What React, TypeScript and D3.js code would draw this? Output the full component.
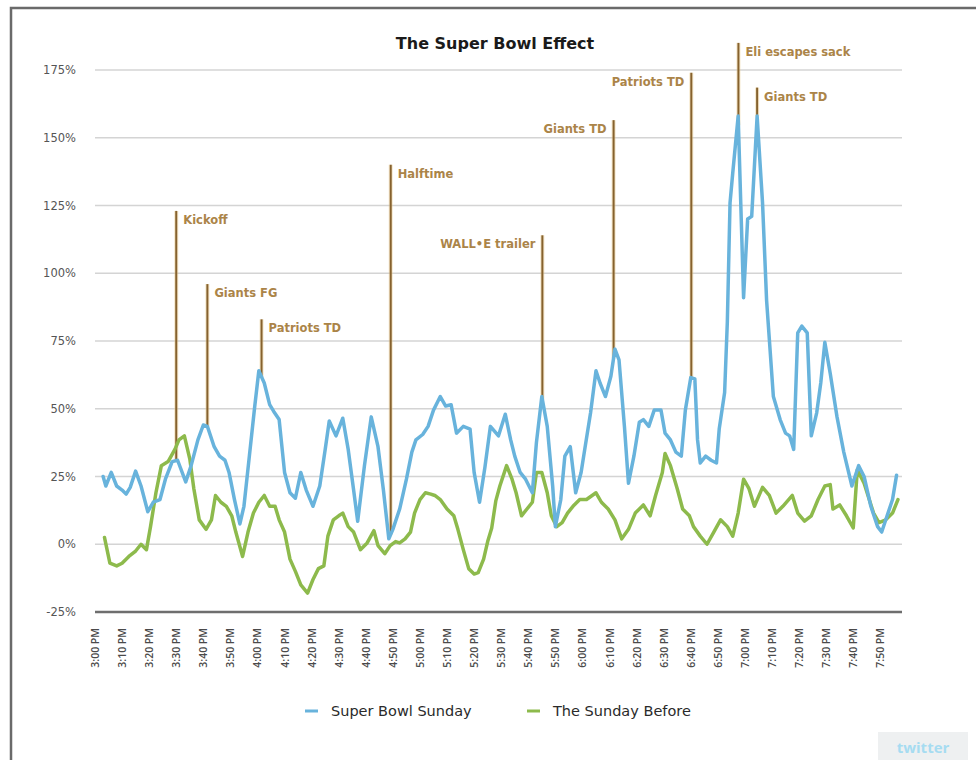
import { useEffect, useRef } from 'react'
import * as d3 from 'd3'

// minutes after 3:00 PM, share of tweets above normal (%)
const sbMinutes = [
  3, 4, 6, 8, 10, 11.5, 13, 15, 17, 19.5, 21.5, 24, 26, 28.5, 30.5, 33.5, 35.5, 38, 40, 41.5,
  44, 46, 48, 49.5, 51.5, 53.5, 55, 57, 59, 60.5, 62.5, 64.5, 66, 68, 70, 72, 74, 76, 78, 80.5,
  83, 85, 86.5, 89, 91.5, 93.5, 95.5, 97, 99.5, 102, 104.5, 106.5, 108.5, 110, 112.5, 115, 117, 118.5, 121, 123,
  125, 127.5, 129.5, 131.5, 133.5, 136, 138.5, 140, 142, 144, 146, 149, 151.5, 153.5, 155, 157, 159, 161.5, 163, 165,
  167, 169, 170, 172, 173.5, 175.5, 177.5, 179.5, 181, 183, 185, 186.5, 188.5, 190.5, 192, 193.5, 195.5, 197, 199, 201,
  202.5, 204.5, 206.5, 209, 210.5, 212.5, 214.5, 216.5, 218, 220, 221.5, 222.5, 223.5, 225.5, 227.5, 229.5, 230.5, 232.5, 233.5, 234.5,
  235.5, 237.5, 239.5, 241, 242.5, 244.5, 246.5, 248, 250.5, 253, 255, 256.5, 258, 259.5, 261, 263, 264.5, 266.5, 268, 269.5,
  271.5, 274, 276.5, 279.5, 282, 284, 286.5, 289, 290.5, 292.5, 294.5, 296,
]
const sbValues = [
  25, 21.5, 26.5, 21.5, 20, 18.5, 21, 27, 21.5, 12, 15.5, 16.5, 24, 30.5, 31, 23, 29, 38.5, 44, 43.5,
  36, 32.5, 31, 26.5, 16.5, 7.5, 14, 32.5, 51, 64, 59.5, 51.5, 49, 46, 26.5, 19, 17, 26.5, 20, 14,
  21.5, 35, 45.5, 40, 46.5, 35, 20, 8.5, 29, 47, 36, 20, 2, 5.5, 13, 24, 34, 38.5, 40.5, 43.5,
  49.5, 54.5, 51, 51.5, 41, 43.5, 42.5, 26.5, 15.5, 28.5, 43.5, 40, 48, 38.5, 32.5, 26.5, 24, 19, 37.5, 54.5,
  43.5, 21.5, 6.5, 16.5, 32.5, 36, 19, 26.5, 36, 48.5, 64, 59.5, 54.5, 62, 72, 68, 43.5, 22.5, 32.5, 45,
  46, 43.5, 49.5, 49.5, 41, 38.5, 34, 32.5, 49.5, 61.5, 61, 38.5, 30, 32.5, 31, 30, 42.5, 56, 82, 126,
  137, 158, 91, 120, 121, 158, 126, 90, 54.5, 46, 41, 40, 35, 78, 80.5, 78, 40, 48.5, 59.5, 74.5,
  63, 47, 34, 21.5, 29, 25, 14, 6.5, 4.5, 10.5, 16.5, 25.5,
]

const beforeMinutes = [
  3.5, 5.5, 8, 10, 12.5, 15, 17, 19, 20.5, 22.5, 24.5, 27, 29.5, 31, 33, 35, 36.5, 38.5, 41, 43,
  44.5, 46.5, 48.5, 50.5, 52, 54.5, 56.5, 58.5, 60.5, 62.5, 64.5, 66.5, 68, 70, 72, 74, 76, 78.5, 80.5, 82.5,
  84.5, 86, 88, 90, 91.5, 93.5, 95.5, 98, 100.5, 103, 104.5, 107, 109, 111, 112.5, 114.5, 116.5, 118, 120, 122,
  124, 125.5, 127.5, 130, 132.5, 134, 136, 138, 140, 141.5, 143.5, 145, 146.5, 148, 149.5, 152, 154, 155.5, 157.5, 159.5,
  161.5, 163, 165, 167, 168.5, 170.5, 172.5, 174.5, 176.5, 179, 181.5, 185, 187, 189.5, 192, 194.5, 197, 199.5, 202.5, 205,
  207, 209.5, 210.5, 212.5, 215, 217, 219.5, 221, 223.5, 226, 228.5, 231, 233.5, 235.5, 237.5, 239.5, 241.5, 243.5, 246.5, 249,
  251.5, 254, 257.5, 259.5, 262, 264.5, 267, 269.5, 271.5, 272.5, 275, 277.5, 280, 281.5, 284, 287.5, 289.5, 292, 294.5, 296.5,
]
const beforeValues = [
  2.5, -7, -8, -7, -4.5, -2.5, 0, -2, 6.5, 19, 29, 30.5, 35, 38.5, 40, 31.5, 20.5, 9, 5.5, 9,
  18, 15.5, 14, 10.5, 4.5, -4.5, 4.5, 11.5, 15.5, 18, 14, 14, 9, 4.5, -5.5, -10, -15, -18, -13, -9,
  -8, 3, 9, 10.5, 11.5, 6.5, 4.5, -2, 0.5, 5, -0.5, -3.5, -0.5, 1, 0.5, 2, 4.5, 11.5, 16.5, 19,
  18.5, 18, 16.5, 13, 10.5, 5.5, -2, -9, -11, -10.5, -5.5, 1, 6, 16, 21.5, 29, 24, 19, 10.5, 13,
  15.5, 26.5, 26.5, 19, 10.5, 6.5, 8, 11.5, 14, 16.5, 16.5, 19, 15.5, 13, 9, 2, 5.5, 11.5, 14.5, 10.5,
  18, 26.5, 33.5, 29, 20.5, 13, 10.5, 6.5, 3, 0, 4.5, 9, 6.5, 3, 11.5, 24, 20.5, 14, 21, 18,
  11.5, 14, 18, 11.5, 8.5, 10.5, 16.5, 21.5, 22, 13, 14.5, 10.5, 6, 27.5, 22.5, 11.5, 8, 9, 11.5, 16.5,
]

const yTicks = [-25, 0, 25, 50, 75, 100, 125, 150, 175]
const xTickMinutes = d3.range(0, 291, 10)
const xTickLabels = xTickMinutes.map(m => `${3 + Math.floor(m / 60)}:${String(m % 60).padStart(2, '0')} PM`)

const eventLabels = ['Kickoff', 'Giants FG', 'Patriots TD', 'Halftime', 'WALL\u2022E trailer', 'Giants TD', 'Patriots TD', 'Eli escapes sack', 'Giants TD']
const eventMinutes = [30, 41.5, 61.5, 109.2, 165.2, 191.5, 220.2, 237.6, 244.5]
const eventTops = [123, 96, 83, 140, 114, 156.5, 174, 185, 168.5]
const eventSides = ['right', 'right', 'right', 'right', 'left', 'left', 'left', 'right', 'right']

const seriesNames = ['Super Bowl Sunday', 'The Sunday Before']
const seriesColors = ['#68b3dc', '#8dba4c']

const SANS = '"DejaVu Sans", Verdana, sans-serif'
const OPEN = '"Open Sans", "DejaVu Sans", sans-serif'

export default function App() {
  const ref = useRef<SVGSVGElement>(null)

  useEffect(() => {
    if (!ref.current) return
    const svg = d3.select(ref.current)
    svg.selectAll('*').remove()

    const width = 976
    const height = 760

    svg.attr('width', width).attr('height', height)
      .style('position', 'absolute').style('left', '0px').style('top', '0px')
      .style('background', '#fff')

    // Frame
    svg.append('rect')
      .attr('x', 11).attr('y', 8).attr('width', 1000).attr('height', 800)
      .attr('fill', '#fff').attr('stroke', '#6a6a6a').attr('stroke-width', 2.5)

    const x = d3.scaleLinear().domain([0, 298]).range([95, 902])
    const y = d3.scaleLinear().domain([-25, 175]).range([612, 70])

    // Gridlines and y labels
    yTicks.forEach(t => {
      svg.append('line')
        .attr('x1', x(0)).attr('x2', x(298))
        .attr('y1', y(t)).attr('y2', y(t))
        .attr('stroke', t === -25 ? '#6e6e6e' : '#d4d4d4')
        .attr('stroke-width', t === -25 ? 2.5 : 1.5)

      svg.append('text')
        .attr('x', 76).attr('y', y(t)).attr('dy', '0.35em')
        .attr('text-anchor', 'end')
        .attr('font-family', SANS).attr('font-size', '11.5px')
        .attr('fill', '#555')
        .text(`${t}%`)
    })

    // X labels
    xTickMinutes.forEach((m, i) => {
      svg.append('text')
        .attr('transform', `translate(${x(m) + 4},628) rotate(-90)`)
        .attr('text-anchor', 'end')
        .attr('font-family', OPEN).attr('font-size', '10.5px').attr('font-weight', 600)
        .attr('fill', '#4a4a4a')
        .text(xTickLabels[i])
    })

    // Title
    svg.append('text')
      .attr('x', 495).attr('y', 49)
      .attr('text-anchor', 'middle')
      .attr('font-family', SANS).attr('font-size', '16px').attr('font-weight', 700)
      .attr('fill', '#1a1a1a')
      .text('The Super Bowl Effect')

    const sbData = sbMinutes.map((m, i) => [m, sbValues[i]] as [number, number])
    const beforeData = beforeMinutes.map((m, i) => [m, beforeValues[i]] as [number, number])
    const line = d3.line<[number, number]>().x(d => x(d[0])).y(d => y(d[1]))

    // value of the Super Bowl series at a minute, where each stem ends
    const interp = (m: number) => {
      const i = d3.bisector((d: [number, number]) => d[0]).left(sbData, m)
      if (i <= 0) return sbData[0][1]
      if (i >= sbData.length) return sbData[sbData.length - 1][1]
      const a = sbData[i - 1], b = sbData[i]
      return a[1] + (b[1] - a[1]) * (m - a[0]) / (b[0] - a[0])
    }

    // Annotation stems
    eventMinutes.forEach((m, i) => {
      svg.append('line')
        .attr('x1', x(m)).attr('x2', x(m))
        .attr('y1', y(eventTops[i])).attr('y2', y(interp(m)))
        .attr('stroke', '#e9c988').attr('stroke-width', 4).attr('opacity', 0.45)
      svg.append('line')
        .attr('x1', x(m)).attr('x2', x(m))
        .attr('y1', y(eventTops[i])).attr('y2', y(interp(m)))
        .attr('stroke', '#86622e').attr('stroke-width', 2)
    })

    // Series
    ;[beforeData, sbData].forEach((data, k) => {
      svg.append('path')
        .datum(data)
        .attr('d', line)
        .attr('fill', 'none')
        .attr('stroke', seriesColors[k === 0 ? 1 : 0])
        .attr('stroke-width', 3.5)
        .attr('stroke-linejoin', 'round')
        .attr('stroke-linecap', 'round')
    })

    // Annotation labels
    eventMinutes.forEach((m, i) => {
      const right = eventSides[i] === 'right'
      svg.append('text')
        .attr('x', x(m) + (right ? 7 : -7))
        .attr('y', y(eventTops[i]) + 13)
        .attr('text-anchor', right ? 'start' : 'end')
        .attr('font-family', SANS).attr('font-size', '11.5px').attr('font-weight', 700)
        .attr('fill', '#ab8448')
        .text(eventLabels[i])
    })

    // Legend
    const legendX = [305, 527]
    seriesNames.forEach((name, i) => {
      svg.append('line')
        .attr('x1', legendX[i]).attr('x2', legendX[i] + 13)
        .attr('y1', 711).attr('y2', 711)
        .attr('stroke', seriesColors[i]).attr('stroke-width', 3)
      svg.append('text')
        .attr('x', legendX[i] + 26).attr('y', 711).attr('dy', '0.35em')
        .attr('font-family', SANS).attr('font-size', '14.5px')
        .attr('fill', '#2a2a2a')
        .text(name)
    })

    // Twitter badge
    svg.append('rect')
      .attr('x', 878).attr('y', 732).attr('width', 90).attr('height', 30)
      .attr('fill', '#eef0f1')
    svg.append('text')
      .attr('x', 923).attr('y', 753)
      .attr('text-anchor', 'middle')
      .attr('font-family', OPEN).attr('font-size', '15px').attr('font-weight', 700)
      .attr('fill', '#a6dcf1')
      .text('twitter')
  }, [])

  return <svg ref={ref} />
}
